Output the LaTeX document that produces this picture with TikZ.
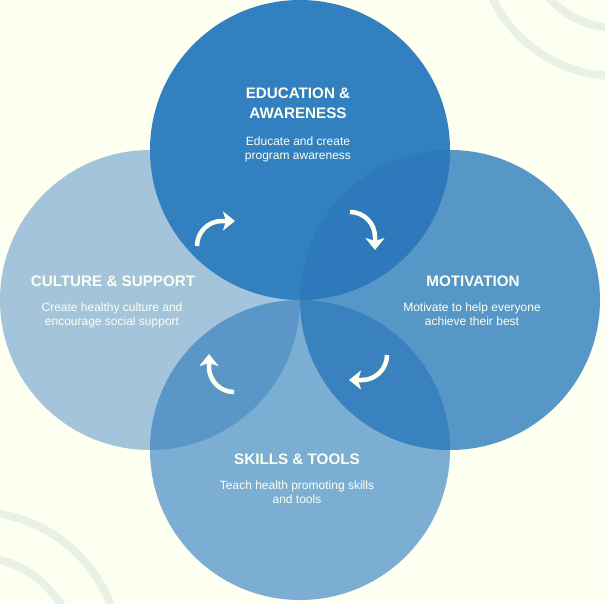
\documentclass[tikz,border=0pt]{standalone}
\usepackage{fontspec}
\setmainfont{Liberation Sans}
\usetikzlibrary{arrows.meta}
\definecolor{bg}{HTML}{FDFFF0}
\definecolor{deco}{HTML}{E9F1E6}
\definecolor{ctop}{HTML}{3380C0}
\definecolor{cleft}{HTML}{A3C4DB}
\definecolor{cright}{HTML}{5797C7}
\definecolor{cbot}{HTML}{7BAED2}
\definecolor{otr}{HTML}{2D79BB}
\definecolor{orb}{HTML}{3A82BF}
\definecolor{olb}{HTML}{5A96C8}
\definecolor{txt}{HTML}{FDFFF0}
\tikzset{
  decoarc/.style={draw=deco,line width=8pt},
  ttl/.style={text=txt,anchor=base,inner sep=0pt,font=\fontsize{15.2}{18}\selectfont\bfseries},
  bdy/.style={text=txt,anchor=base,inner sep=0pt,font=\fontsize{12}{14}\selectfont},
  cyc/.style={draw=txt,line width=4.5pt,-{Stealth[length=12pt,width=19pt,inset=3pt]}}
}
\begin{document}
\begin{tikzpicture}[x=1pt,y=-1pt]
\fill[bg] (0,0) rectangle (605,603);
\useasboundingbox (0,0) rectangle (605,603);
\begin{scope}
\clip (0,0) rectangle (605,603);
\draw[decoarc] (616,-61) circle[radius=137];
\draw[decoarc] (616,-61) circle[radius=89];
\draw[decoarc] (-24,656) circle[radius=144];
\draw[decoarc] (-24,656) circle[radius=99];
\end{scope}
% circles
\fill[cleft] (150,300) circle[radius=150];
\fill[cbot] (300,450) circle[radius=150];
\fill[cright] (450,300) circle[radius=150];
\fill[ctop] (300,150) circle[radius=150];
% overlaps
\begin{scope}
\clip (150,300) circle[radius=150];
\fill[olb] (300,450) circle[radius=150];
\end{scope}
\begin{scope}
\clip (450,300) circle[radius=150];
\fill[orb] (300,450) circle[radius=150];
\end{scope}
\begin{scope}
\clip (450,300) circle[radius=150];
\fill[otr] (300,150) circle[radius=150];
\end{scope}
% texts
\node[ttl] (t1) at (298,98) {EDUCATION \&};
\node[ttl] (t2) at (298,118.5) {AWARENESS};
\node[bdy] (t3) at (298,145.5) {Educate and create};
\node[bdy] (t4) at (298,159.5) {program awareness};
\node[ttl] (l1) at (113,286) {CULTURE \& SUPPORT};
\node[bdy] (l2) at (112,311) {Create healthy culture and};
\node[bdy] (l3) at (112,325) {encourage social support};
\node[ttl] (r1) at (473,286) {MOTIVATION};
\node[bdy] (r2) at (472,311) {Motivate to help everyone};
\node[bdy] (r3) at (472,325) {achieve their best};
\node[ttl] (b1) at (297,464) {SKILLS \& TOOLS};
\node[bdy] (b2) at (297,489) {Teach health promoting skills};
\node[bdy] (b3) at (297,503) {and tools};
% cycle arrows
\coordinate (a1s) at (197,246);
\coordinate (a1e) at (235,221);
\coordinate (a2s) at (350,212);
\coordinate (a2e) at (375,250);
\coordinate (a3s) at (387,355);
\coordinate (a3e) at (349,380);
\coordinate (a4s) at (234,392);
\coordinate (a4e) at (209,354);
\draw[cyc] (a1s) arc[start angle=180,end angle=270,radius=25] -- (a1e);
\draw[cyc] (a2s) arc[start angle=270,end angle=360,radius=25] -- (a2e);
\draw[cyc] (a3s) arc[start angle=0,end angle=90,radius=25] -- (a3e);
\draw[cyc] (a4s) arc[start angle=90,end angle=180,radius=25] -- (a4e);
\end{tikzpicture}
\end{document}
